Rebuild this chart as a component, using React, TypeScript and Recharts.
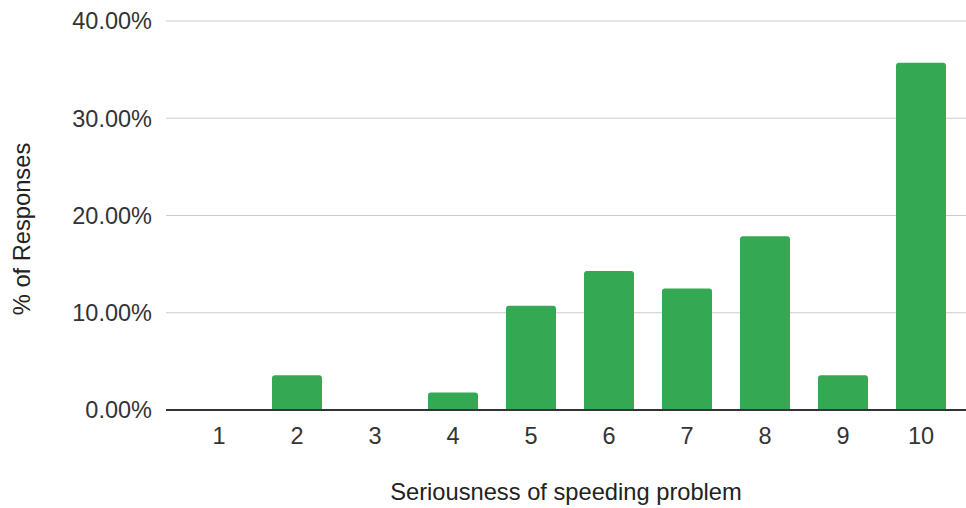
import React from "react";
import { BarChart, Bar, XAxis, YAxis, CartesianGrid } from "recharts";

const categories = ["1", "2", "3", "4", "5", "6", "7", "8", "9", "10"];
const percentResponses = [0, 3.57, 0, 1.79, 10.71, 14.29, 12.5, 17.86, 3.57, 35.71];
const yTicks = [0, 10, 20, 30, 40];
const xTitle = "Seriousness of speeding problem";
const yTitle = "% of Responses";

const data = categories.map((c, i) => ({ cat: c, value: percentResponses[i] }));

const FONT = "'Liberation Sans', Arial, sans-serif";

export default function App() {
  return (
    <div style={{ position: "absolute", left: 0, top: 0, width: 966, height: 508, background: "#fff" }}>
      <BarChart
        width={966}
        height={508}
        data={data}
        margin={{ top: 21, right: 0, bottom: 0, left: 0 }}
        barSize={50}
      >
        <CartesianGrid horizontal vertical={false} stroke="#cccccc" strokeWidth={1} />
        <XAxis
          dataKey="cat"
          height={98}
          padding={{ left: 14, right: 6 }}
          tickLine={false}
          tickSize={0}
          tickMargin={17}
          axisLine={{ stroke: "#333333", strokeWidth: 2 }}
          tick={{ fill: "#333333", fontSize: 23.5, fontFamily: FONT }}
          interval={0}
          label={{
            value: xTitle,
            position: "insideBottom",
            offset: 8,
            fill: "#222222",
            fontSize: 23.7,
            fontFamily: FONT,
          }}
        />
        <YAxis
          width={166}
          domain={[0, 40]}
          ticks={yTicks}
          axisLine={false}
          tickLine={false}
          tickSize={0}
          tickMargin={14}
          tickFormatter={(v: number) => v.toFixed(2) + "%"}
          tick={{ fill: "#333333", fontSize: 23.5, fontFamily: FONT }}
          label={{
            content: () => (
              <text
                x={30}
                y={229}
                transform="rotate(-90, 30, 229)"
                textAnchor="middle"
                fill="#222222"
                fontSize={23.7}
                fontFamily={FONT}
              >
                {yTitle}
              </text>
            ),
          }}
        />
        <Bar dataKey="value" fill="#34A853" radius={[3, 3, 0, 0]} isAnimationActive={false} />
      </BarChart>
    </div>
  );
}
